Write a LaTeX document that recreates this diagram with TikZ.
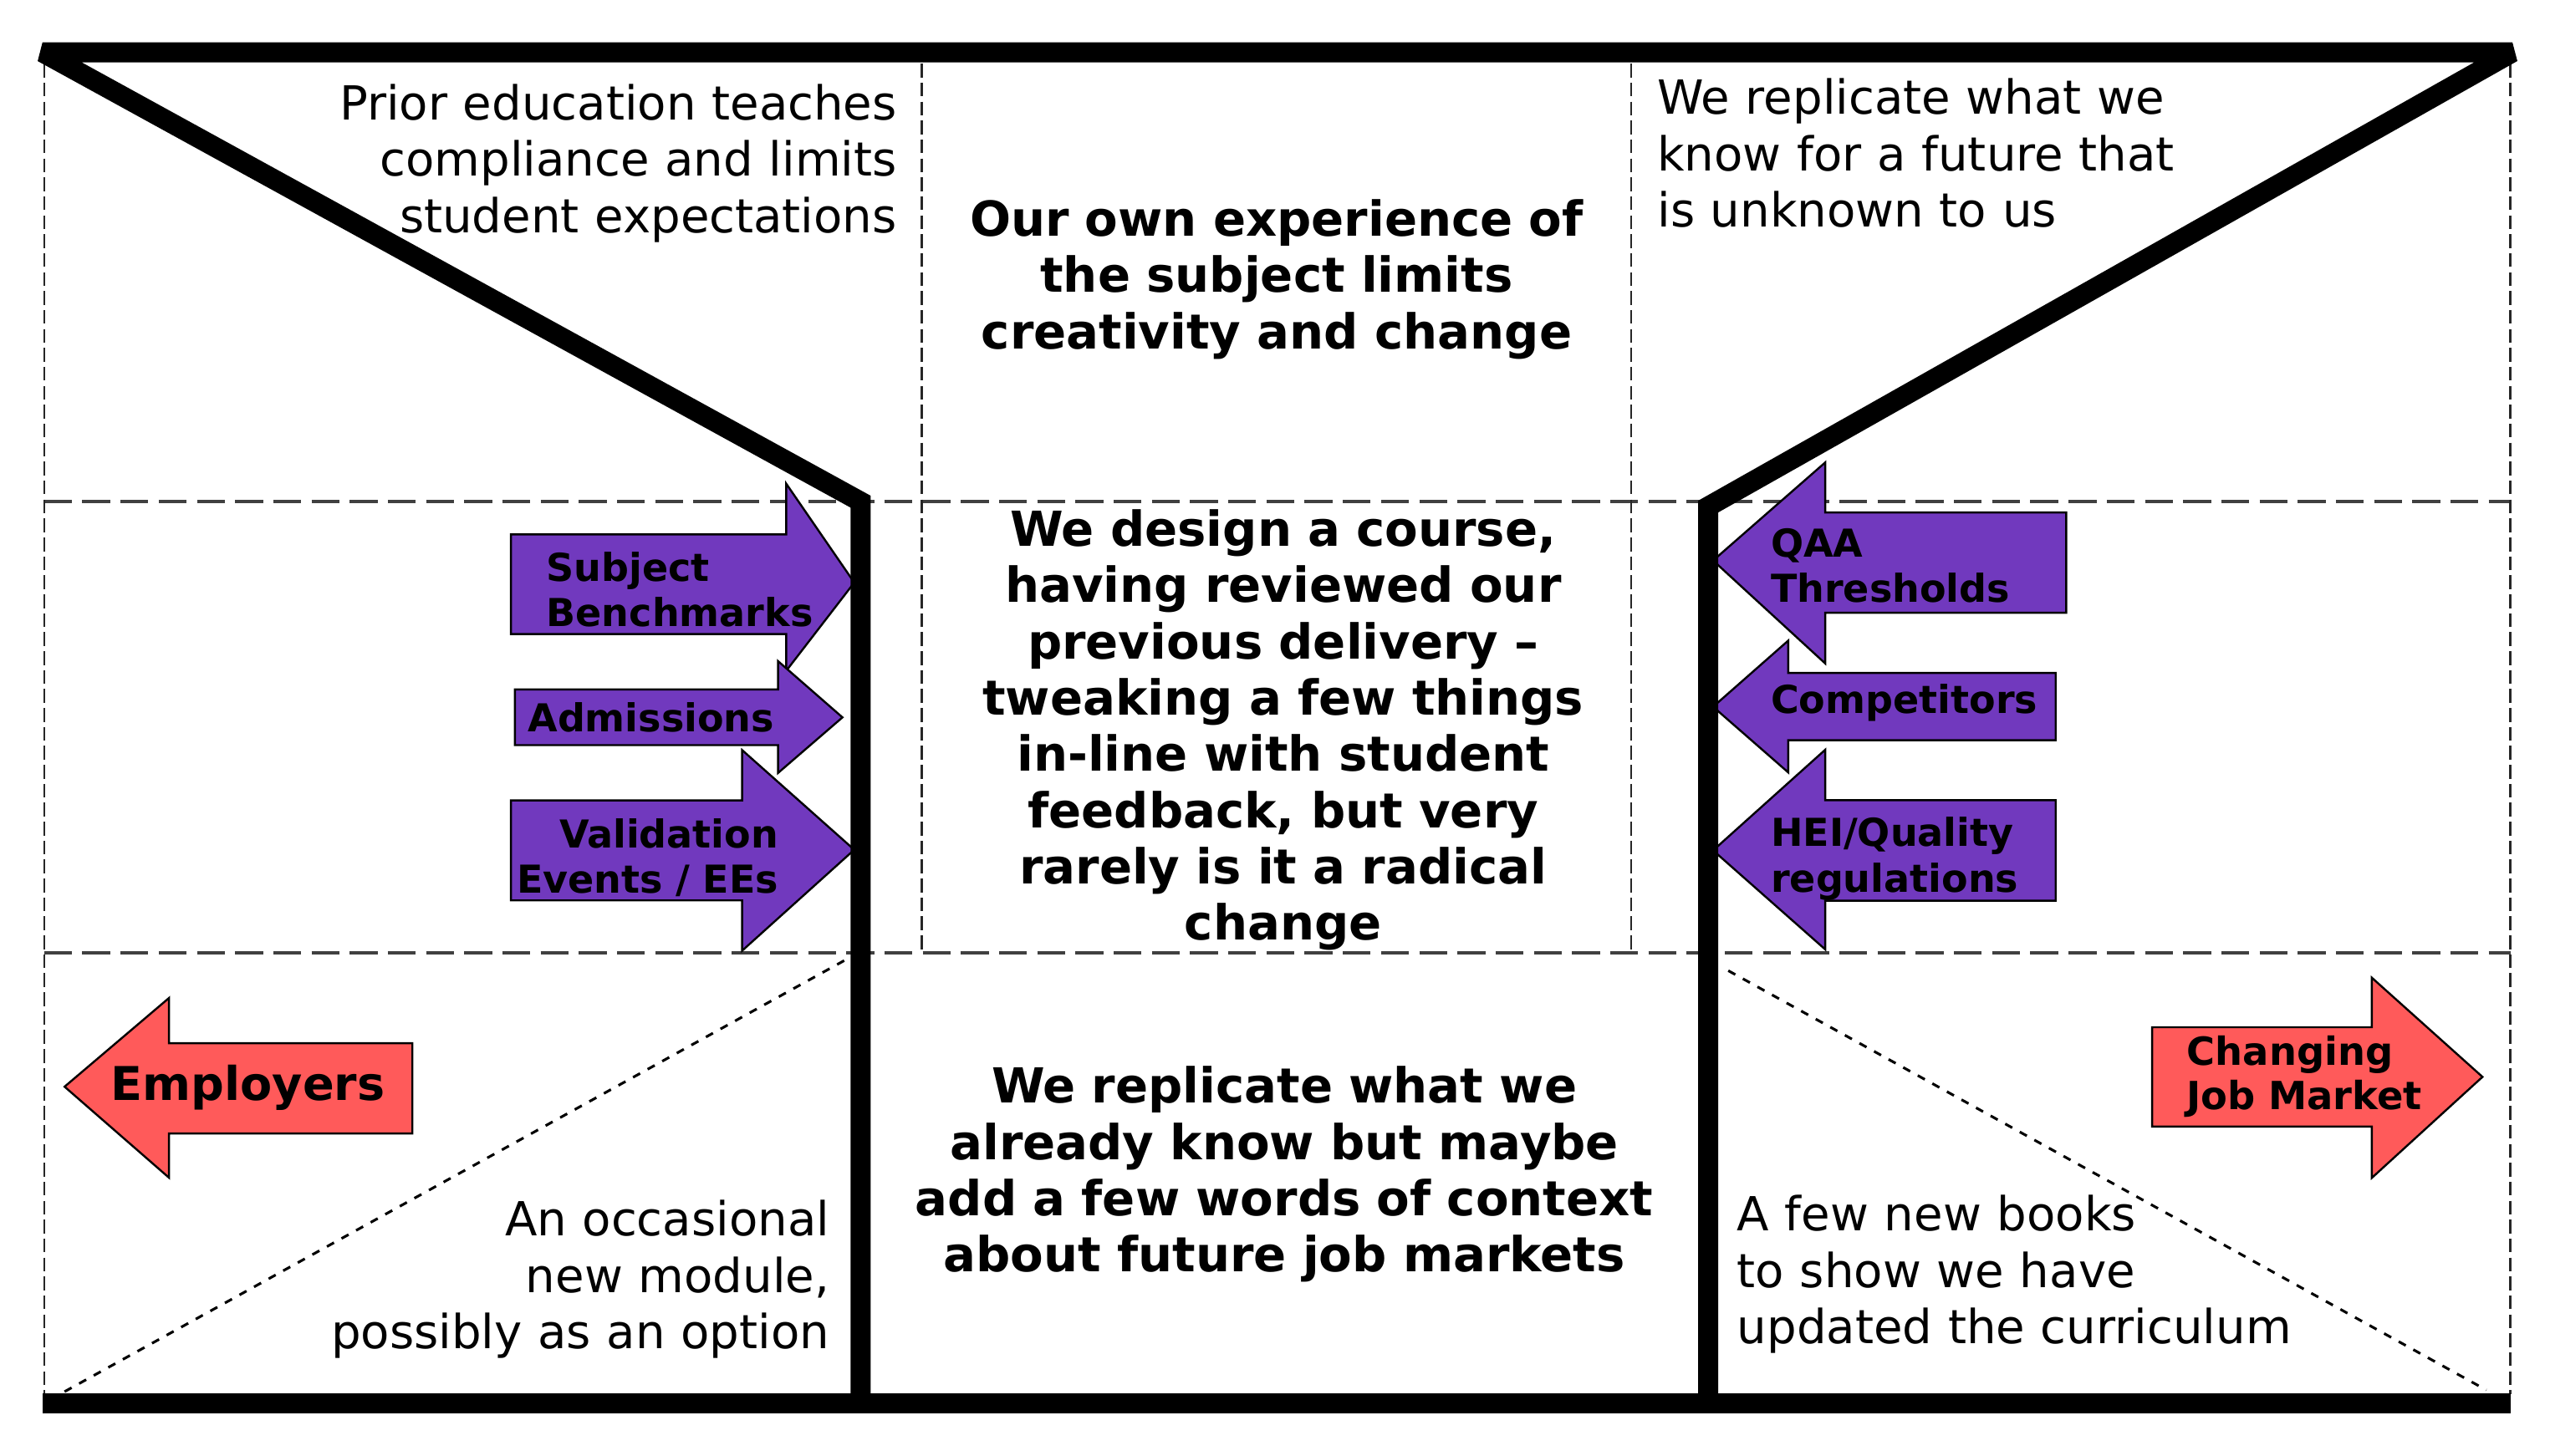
\documentclass[tikz,border=0pt]{standalone}
\usepackage{fontspec}
\setmainfont{DejaVu Sans}
\definecolor{arrowpurple}{HTML}{7139BE}
\definecolor{arrowred}{HTML}{FF5A5A}
\tikzset{
  frame/.style={line width=7pt, line join=miter, miter limit=2},
  bar/.style={line width=7pt},
  hdash/.style={draw=black!75, line width=1.15pt, dash pattern=on 9.7pt off 3.6pt},
  vdash/.style={draw=black!85, line width=0.7pt, dash pattern=on 4.8pt off 1.8pt},
  ddash/.style={draw=black, line width=0.9pt, dash pattern=on 2.8pt off 3pt},
  parrow/.style={fill=arrowpurple, draw=black, line width=0.7pt, line join=miter},
  rarrow/.style={fill=arrowred, draw=black, line width=0.7pt, line join=miter},
  bigtxt/.style={inner sep=0pt, font=\fontsize{16.35}{19.65}\selectfont},
  boldtxt/.style={inner sep=0pt, font=\fontsize{16.8}{19.6}\selectfont\bfseries},
  lbl/.style={inner sep=0pt, font=\fontsize{13.4}{15.8}\selectfont\bfseries},
}
\begin{document}
\begin{tikzpicture}[x=0.02cm,y=-0.02cm]
\useasboundingbox (0,0) rectangle (1560,891);
\fill[white] (0,0) rectangle (1560,891);
% dashed grid
\draw[hdash] (27,307) -- (1536,307);
\draw[hdash] (27,583) -- (1536,583);
\draw[vdash] (27,39) -- (27,853);
\draw[vdash] (1535.6,39) -- (1535.6,853);
\draw[vdash] (564,39) -- (564,583);
\draw[vdash] (998,39) -- (998,583);
\draw[ddash] (39.5,851.6) -- (518.5,586.7);
\draw[ddash] (1057.3,594) -- (1521,850.6);
% purple arrows (left, pointing right)
\path[parrow] (312.6,327) -- (481,327) -- (481,296) -- (522.6,356.5) -- (481,410.5) -- (481,388) -- (312.6,388) -- cycle;
\path[parrow] (315,421.9) -- (476,421.9) -- (476,404.6) -- (515.4,439) -- (476,473) -- (476,456) -- (315,456) -- cycle;
\path[parrow] (312.6,489.8) -- (454,489.8) -- (454,459) -- (522.6,520) -- (454,581.8) -- (454,551) -- (312.6,551) -- cycle;
% purple arrows (right, pointing left)
\path[parrow] (1264,313.6) -- (1116.6,313.6) -- (1116.6,283) -- (1048,343) -- (1116.6,406) -- (1116.6,375) -- (1264,375) -- cycle;
\path[parrow] (1257.6,411.8) -- (1094,411.8) -- (1094,392) -- (1048,432.5) -- (1094,472.7) -- (1094,453) -- (1257.6,453) -- cycle;
\path[parrow] (1257.6,489.7) -- (1116.6,489.7) -- (1116.6,458.8) -- (1048,520.4) -- (1116.6,581) -- (1116.6,551.2) -- (1257.6,551.2) -- cycle;
% red arrows
\path[rarrow] (252.3,638.4) -- (103.4,638.4) -- (103.4,610.7) -- (39.5,665) -- (103.4,720.7) -- (103.4,693.6) -- (252.3,693.6) -- cycle;
\path[rarrow] (1316.6,628.6) -- (1451,628.6) -- (1451,598.3) -- (1518.7,659) -- (1451,720.8) -- (1451,689.4) -- (1316.6,689.4) -- cycle;
% thick frame
\draw[frame] (526.5,859) -- (526.5,307) -- (26,32) -- (1537,32) -- (1045,310) -- (1045,859);
\draw[bar] (26,859) -- (1536,859);
% texts
\node[bigtxt, anchor=base east, text width=9cm, align=right] (prior) at (549,73.2)
  {Prior education teaches\\compliance and limits\\student expectations};
\node[boldtxt, anchor=base, text width=10cm, align=center] (own) at (781,144.5)
  {Our own experience of\\the subject limits\\creativity and change};
\node[bigtxt, anchor=base west, text width=9cm, align=left] (unknown) at (1013.6,70)
  {We replicate what we\\know for a future that\\is unknown to us};
\node[boldtxt, anchor=base, text width=10cm, align=center] (design) at (785,334.2)
  {We design a course,\\having reviewed our\\previous delivery –\\tweaking a few things\\in-line with student\\feedback, but very\\rarely is it a radical\\change};
\node[boldtxt, anchor=base, text width=10cm, align=center] (replicate) at (785.7,675)
  {We replicate what we\\already know but maybe\\add a few words of context\\about future job markets};
\node[bigtxt, anchor=base east, text width=9cm, align=right] (module) at (507.8,756.4)
  {An occasional\\new module,\\possibly as an option};
\node[bigtxt, anchor=base west, text width=9cm, align=left] (books) at (1062.4,753.3)
  {A few new books\\to show we have\\updated the curriculum};
% arrow labels
\node[lbl, anchor=base west, text width=5cm, align=left] (subj) at (334,355.7) {Subject\\Benchmarks};
\node[lbl, anchor=base west] (adm) at (322.6,448) {Admissions};
\node[lbl, anchor=base east, text width=5cm, align=right] (valid) at (476.5,518.7) {Validation\\Events / EEs};
\node[lbl, anchor=base west, text width=5cm, align=left] (qaa) at (1083,341) {QAA\\Thresholds};
\node[lbl, anchor=base west] (comp) at (1083,436.7) {Competitors};
\node[lbl, anchor=base west, text width=5cm, align=left] (hei) at (1083,518) {HEI/Quality\\regulations};
\node[inner sep=0pt, font=\fontsize{16.2}{19}\selectfont\bfseries, anchor=base west] (emp) at (67.5,673.6) {Employers};
\node[inner sep=0pt, font=\fontsize{13.5}{15.4}\selectfont\bfseries, anchor=base west, text width=5cm, align=left] (jobs) at (1337.5,651.7) {Changing\\Job Market};
\end{tikzpicture}
\end{document}
